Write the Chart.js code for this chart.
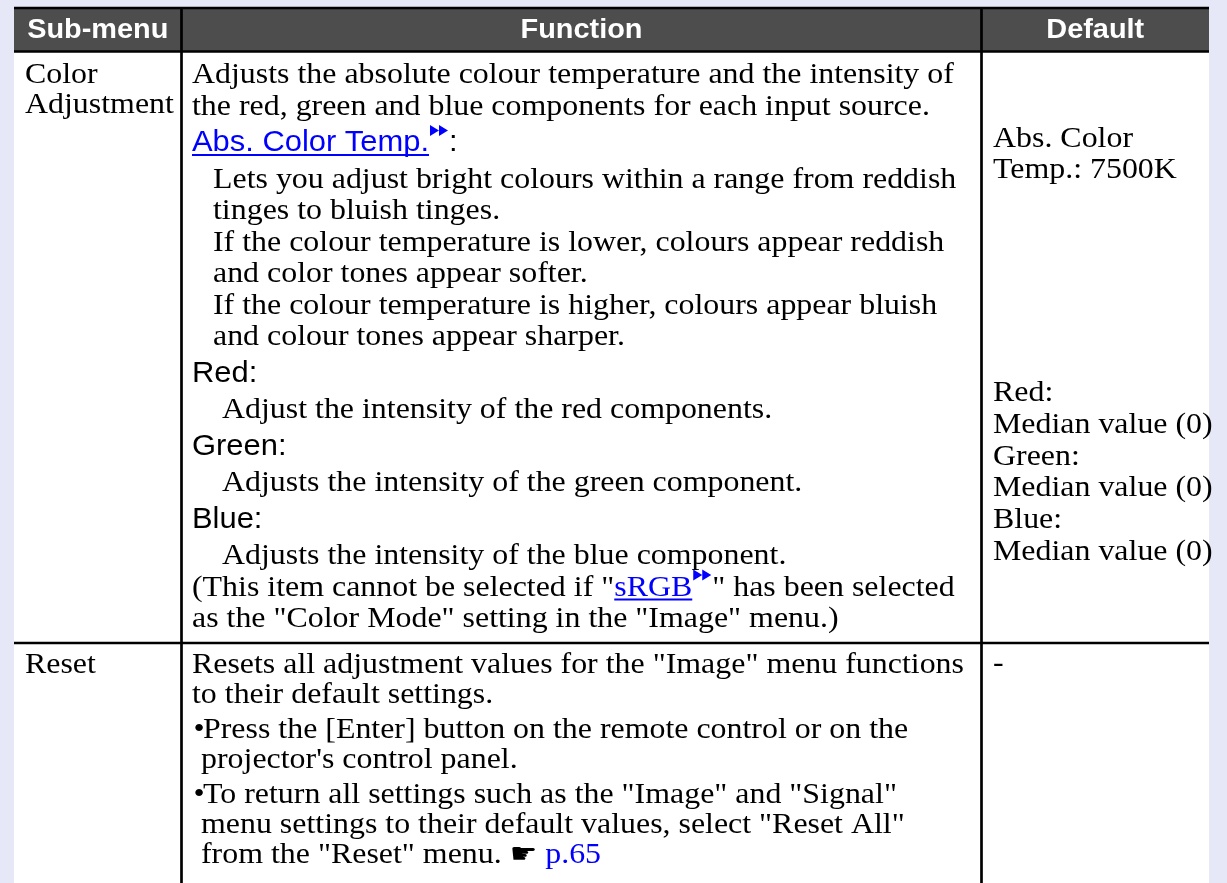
<!DOCTYPE html>
<html>
<head>
<meta charset="utf-8">
<script src="https://cdn.jsdelivr.net/npm/chart.js@4.4.1/dist/chart.umd.min.js"></script>
<style>
  html, body { margin: 0; padding: 0; background: #e6e8f8; }
  canvas { display: block; }
</style>
</head>
<body>
<canvas id="menuTable" width="1227" height="883"></canvas>
<script>
// Table content. {text} = blue underlined link with arrow mark, <text> = blue page ref
const headers = ['Sub-menu', 'Function', 'Default'];
const subMenus = [['Color', 'Adjustment'], ['Reset']];

// line kinds: b body, i indented, j more indented, h sans heading, L sans link heading, • bullet, c bullet continuation
const colorFunction = [
    ['b', 'Adjusts the absolute colour temperature and the intensity of'],
    ['b', 'the red, green and blue components for each input source.'],
    ['L', '{Abs. Color Temp.}:'],
    ['i', 'Lets you adjust bright colours within a range from reddish'],
    ['i', 'tinges to bluish tinges.'],
    ['i', 'If the colour temperature is lower, colours appear reddish'],
    ['i', 'and color tones appear softer.'],
    ['i', 'If the colour temperature is higher, colours appear bluish'],
    ['i', 'and colour tones appear sharper.'],
    ['h', 'Red:'],
    ['j', 'Adjust the intensity of the red components.'],
    ['h', 'Green:'],
    ['j', 'Adjusts the intensity of the green component.'],
    ['h', 'Blue:'],
    ['j', 'Adjusts the intensity of the blue component.'],
    ['b', '(This item cannot be selected if "{sRGB}" has been selected'],
    ['b', 'as the "Color Mode" setting in the "Image" menu.)']
];
const resetFunction = [
    ['b', 'Resets all adjustment values for the "Image" menu functions'],
    ['b', 'to their default settings.'],
    ['•', 'Press the [Enter] button on the remote control or on the'],
    ['c', "projector's control panel."],
    ['•', 'To return all settings such as the "Image" and "Signal"'],
    ['c', 'menu settings to their default values, select "Reset All"'],
    ['c', 'from the "Reset" menu. ☛ <p.65>']
];
const colorDefault = [['Abs. Color', 'Temp.: 7500K'],
    ['Red:', 'Median value (0)', 'Green:', 'Median value (0)', 'Blue:', 'Median value (0)']];
const resetDefault = ['-'];

// fonts are drawn slightly stretched horizontally, like the printed page
const SERIF = { font: '29px "Liberation Serif", "Times New Roman", serif', stretch: 1.1 };
const SANS = { font: '30px "Liberation Sans", Arial, sans-serif', stretch: 1.03 };
const HEAD = { font: 'bold 27px "Liberation Sans", Arial, sans-serif', stretch: 1.07 };
const HAND = { font: '28px "DejaVu Sans", sans-serif', stretch: 1.1 };
const BLUE = '#0000ff';

const tablePlugin = {
    id: 'menuTable',
    beforeDraw(chart) {
        const c = chart.ctx;
        const sx = v => chart.scales.x.getPixelForValue(v);
        const sy = v => chart.scales.y.getPixelForValue(v);
        const left = 14, right = 1209, top = 8, headBottom = 51.5, rowLine = 643, bottom = 883;
        const colX = [left, 181.5, 981.5, right];

        const text = (t, x, base, f, color, align) => {
            c.font = f.font;
            c.fillStyle = color || '#000000';
            const w = c.measureText(t).width * f.stretch;
            let px = sx(x);
            if (align === 'center') px -= w / 2;
            c.save();
            c.translate(px, sy(base));
            c.scale(f.stretch, 1);
            c.textAlign = 'left';
            c.textBaseline = 'alphabetic';
            c.fillText(t, 0, 0);
            c.restore();
            return w;
        };

        c.save();
        c.fillStyle = '#e6e8f8';
        c.fillRect(0, 0, chart.width, chart.height);
        c.fillStyle = '#ffffff';
        c.fillRect(sx(left), sy(top), sx(right) - sx(left), sy(bottom) - sy(top));
        c.fillStyle = '#4d4d4d';
        c.fillRect(sx(left), sy(top), sx(right) - sx(left), sy(headBottom) - sy(top));

        c.strokeStyle = '#000000';
        c.lineWidth = 2.7;
        const hline = y => { c.beginPath(); c.moveTo(sx(left), sy(y)); c.lineTo(sx(right), sy(y)); c.stroke(); };
        hline(top); hline(headBottom); hline(rowLine);
        [colX[1], colX[2]].forEach(x => {
            c.beginPath(); c.moveTo(sx(x), sy(top)); c.lineTo(sx(x), sy(bottom)); c.stroke();
        });

        // header
        headers.forEach((h, i) => text(h, (colX[i] + colX[i + 1]) / 2, 37.5, HEAD, '#ffffff', 'center'));

        const arrows = (x, base) => {
            c.fillStyle = BLUE;
            for (let k = 0; k < 2; k++) {
                const ax = x + 1 + k * 9;
                c.beginPath();
                c.moveTo(sx(ax), sy(base - 26));
                c.lineTo(sx(ax + 9), sy(base - 20.5));
                c.lineTo(sx(ax), sy(base - 15));
                c.closePath();
                c.fill();
            }
            return 20;
        };

        const drawRich = (str, x, base, f) => {
            const parts = str.split(/(\{[^}]*\}|<[^>]*>)/).filter(p => p.length);
            let cx = x;
            parts.forEach(p => {
                if (p[0] === '{') {
                    const w = text(p.slice(1, -1), cx, base, f, BLUE);
                    c.fillStyle = BLUE;
                    c.fillRect(sx(cx), sy(base + 3), w, 2);
                    cx += w;
                    cx += arrows(cx, base);
                } else if (p[0] === '<') {
                    cx += text(p.slice(1, -1), cx, base, f, BLUE);
                } else if (p.indexOf('☛') >= 0) {
                    const [a, b] = p.split('☛');
                    cx += text(a, cx, base, f);
                    cx += text('☛', cx, base, HAND);
                    cx += text(b, cx, base, f);
                } else {
                    cx += text(p, cx, base, f);
                }
            });
        };

        const indent = { b: 192, i: 213, j: 222, h: 192, L: 192, '•': 203, c: 201 };
        const drawFunction = (lines, start, gap, bulletGap) => {
            let base = start;
            lines.forEach((ln, k) => {
                const [kind, str] = ln;
                if (k > 0) {
                    const prev = lines[k - 1][0];
                    base += gap;
                    if ('hL'.includes(kind) || 'hL'.includes(prev)) base += 5;
                    if (kind === '•') base += bulletGap;
                }
                const sans = kind === 'h' || kind === 'L';
                if (kind === '•') text('•', 193.5, base, SERIF);
                drawRich(str, indent[kind], base, sans ? SANS : SERIF);
            });
        };

        // row 1
        subMenus[0].forEach((t, k) => text(t, 25, 83 + k * 30, SERIF));
        drawFunction(colorFunction, 83, 31.5, 0);
        colorDefault[0].forEach((t, k) => text(t, 993, 147 + k * 31, SERIF));
        colorDefault[1].forEach((t, k) => text(t, 993, 401 + k * 31.8, SERIF));

        // row 2
        subMenus[1].forEach((t, k) => text(t, 25, 673 + k * 30, SERIF));
        drawFunction(resetFunction, 673, 30, 5);
        resetDefault.forEach((t, k) => text(t, 993, 672 + k * 30, SERIF));
        c.restore();
    }
};

const ctx = document.getElementById('menuTable').getContext('2d');
const menuChart = new Chart(ctx, {
    type: 'scatter',
    data: { datasets: [] },
    options: {
        responsive: false,
        animation: false,
        devicePixelRatio: 1,
        layout: { padding: 0 },
        plugins: { legend: { display: false }, tooltip: { enabled: false } },
        scales: {
            x: { type: 'linear', min: 0, max: 1227, display: false },
            y: { type: 'linear', min: 0, max: 883, reverse: true, display: false }
        }
    },
    plugins: [tablePlugin]
});
</script>
</body>
</html>
